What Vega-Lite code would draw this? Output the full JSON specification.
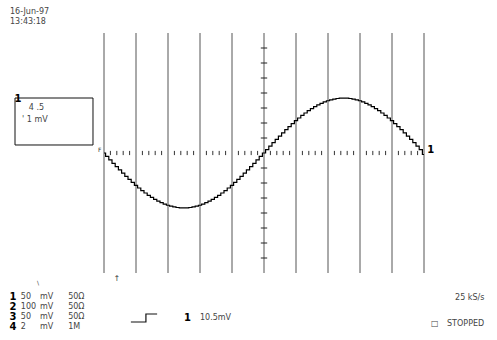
{
  "$schema": "https://vega.github.io/schema/vega-lite/v6.json",
  "width": 497,
  "height": 340,
  "padding": 0,
  "autosize": {"type": "fit", "contains": "padding"},
  "background": "white",
  "config": {"view": {"stroke": null}, "font": "DejaVu Sans"},
  "datasets": {
    "wave": [
      {"t": 0, "v": 0}, {"t": 0.1, "v": -0.115}, {"t": 0.2, "v": -0.229}, {"t": 0.3, "v": -0.343}, {"t": 0.4, "v": -0.455},
      {"t": 0.5, "v": -0.565}, {"t": 0.6, "v": -0.674}, {"t": 0.7, "v": -0.779}, {"t": 0.8, "v": -0.882}, {"t": 0.9, "v": -0.981},
      {"t": 1.0, "v": -1.076}, {"t": 1.1, "v": -1.166}, {"t": 1.2, "v": -1.253}, {"t": 1.3, "v": -1.334}, {"t": 1.4, "v": -1.41},
      {"t": 1.5, "v": -1.48}, {"t": 1.6, "v": -1.545}, {"t": 1.7, "v": -1.604}, {"t": 1.8, "v": -1.656}, {"t": 1.9, "v": -1.702},
      {"t": 2.0, "v": -1.741}, {"t": 2.1, "v": -1.773}, {"t": 2.2, "v": -1.798}, {"t": 2.3, "v": -1.816}, {"t": 2.4, "v": -1.826},
      {"t": 2.5, "v": -1.83}, {"t": 2.6, "v": -1.826}, {"t": 2.7, "v": -1.816}, {"t": 2.8, "v": -1.798}, {"t": 2.9, "v": -1.773},
      {"t": 3.0, "v": -1.741}, {"t": 3.1, "v": -1.702}, {"t": 3.2, "v": -1.656}, {"t": 3.3, "v": -1.604}, {"t": 3.4, "v": -1.545},
      {"t": 3.5, "v": -1.48}, {"t": 3.6, "v": -1.41}, {"t": 3.7, "v": -1.334}, {"t": 3.8, "v": -1.253}, {"t": 3.9, "v": -1.166},
      {"t": 4.0, "v": -1.076}, {"t": 4.1, "v": -0.981}, {"t": 4.2, "v": -0.882}, {"t": 4.3, "v": -0.779}, {"t": 4.4, "v": -0.674},
      {"t": 4.5, "v": -0.565}, {"t": 4.6, "v": -0.455}, {"t": 4.7, "v": -0.343}, {"t": 4.8, "v": -0.229}, {"t": 4.9, "v": -0.115},
      {"t": 5.0, "v": 0}, {"t": 5.1, "v": 0.115}, {"t": 5.2, "v": 0.229}, {"t": 5.3, "v": 0.343}, {"t": 5.4, "v": 0.455},
      {"t": 5.5, "v": 0.565}, {"t": 5.6, "v": 0.674}, {"t": 5.7, "v": 0.779}, {"t": 5.8, "v": 0.882}, {"t": 5.9, "v": 0.981},
      {"t": 6.0, "v": 1.076}, {"t": 6.1, "v": 1.166}, {"t": 6.2, "v": 1.253}, {"t": 6.3, "v": 1.334}, {"t": 6.4, "v": 1.41},
      {"t": 6.5, "v": 1.48}, {"t": 6.6, "v": 1.545}, {"t": 6.7, "v": 1.604}, {"t": 6.8, "v": 1.656}, {"t": 6.9, "v": 1.702},
      {"t": 7.0, "v": 1.741}, {"t": 7.1, "v": 1.773}, {"t": 7.2, "v": 1.798}, {"t": 7.3, "v": 1.816}, {"t": 7.4, "v": 1.826},
      {"t": 7.5, "v": 1.83}, {"t": 7.6, "v": 1.826}, {"t": 7.7, "v": 1.816}, {"t": 7.8, "v": 1.798}, {"t": 7.9, "v": 1.773},
      {"t": 8.0, "v": 1.741}, {"t": 8.1, "v": 1.702}, {"t": 8.2, "v": 1.656}, {"t": 8.3, "v": 1.604}, {"t": 8.4, "v": 1.545},
      {"t": 8.5, "v": 1.48}, {"t": 8.6, "v": 1.41}, {"t": 8.7, "v": 1.334}, {"t": 8.8, "v": 1.253}, {"t": 8.9, "v": 1.166},
      {"t": 9.0, "v": 1.076}, {"t": 9.1, "v": 0.981}, {"t": 9.2, "v": 0.882}, {"t": 9.3, "v": 0.779}, {"t": 9.4, "v": 0.674},
      {"t": 9.5, "v": 0.565}, {"t": 9.6, "v": 0.455}, {"t": 9.7, "v": 0.343}, {"t": 9.8, "v": 0.229}, {"t": 9.9, "v": 0.115},
      {"t": 10.0, "v": -0.05}
    ],
    "grid": [{"t": 0}, {"t": 1}, {"t": 2}, {"t": 3}, {"t": 4}, {"t": 5}, {"t": 6}, {"t": 7}, {"t": 8}, {"t": 9}, {"t": 10}],
    "hticks": [
      {"t": 0.2}, {"t": 0.4}, {"t": 0.6}, {"t": 0.8}, {"t": 1.2}, {"t": 1.4}, {"t": 1.6}, {"t": 1.8},
      {"t": 2.2}, {"t": 2.4}, {"t": 2.6}, {"t": 2.8}, {"t": 3.2}, {"t": 3.4}, {"t": 3.6}, {"t": 3.8},
      {"t": 4.2}, {"t": 4.4}, {"t": 4.6}, {"t": 4.8}, {"t": 5.2}, {"t": 5.4}, {"t": 5.6}, {"t": 5.8},
      {"t": 6.2}, {"t": 6.4}, {"t": 6.6}, {"t": 6.8}, {"t": 7.2}, {"t": 7.4}, {"t": 7.6}, {"t": 7.8},
      {"t": 8.2}, {"t": 8.4}, {"t": 8.6}, {"t": 8.8}, {"t": 9.2}, {"t": 9.4}, {"t": 9.6}, {"t": 9.8}
    ],
    "vticks": [
      {"v": -3.5}, {"v": -3}, {"v": -2.5}, {"v": -2}, {"v": -1.5}, {"v": -1}, {"v": -0.5},
      {"v": 0.5}, {"v": 1}, {"v": 1.5}, {"v": 2}, {"v": 2.5}, {"v": 3}, {"v": 3.5}
    ],
    "box": [{"x1": -2.781, "x2": -0.344, "y1": 1.833, "y2": 0.267}],
    "step": [
      {"i": 0, "x": 0.84, "y": -5.633}, {"i": 1, "x": 1.31, "y": -5.633},
      {"i": 2, "x": 1.31, "y": -5.367}, {"i": 3, "x": 1.66, "y": -5.367}
    ],
    "labels": [
      {"x": -2.9375, "y": 4.7, "text": "16-Jun-97", "kind": "n"},
      {"x": -2.9375, "y": 4.367, "text": "13:43:18", "kind": "n"},
      {"x": -2.35, "y": 1.5, "text": "4 .5", "kind": "n"},
      {"x": -2.5625, "y": 1.1, "text": "' 1 mV", "kind": "n"},
      {"x": -0.19, "y": 0.1, "text": "F", "kind": "s"},
      {"x": -2.094, "y": -4.333, "text": "\\", "kind": "s"},
      {"x": 0.3, "y": -4.2, "text": "↑", "kind": "n"},
      {"x": -2.6, "y": -4.8, "text": "50", "kind": "n"},
      {"x": -2.6, "y": -5.133, "text": "100", "kind": "n"},
      {"x": -2.6, "y": -5.467, "text": "50", "kind": "n"},
      {"x": -2.6, "y": -5.8, "text": "2", "kind": "n"},
      {"x": -2.0, "y": -4.8, "text": "mV", "kind": "n"},
      {"x": -2.0, "y": -5.133, "text": "mV", "kind": "n"},
      {"x": -2.0, "y": -5.467, "text": "mV", "kind": "n"},
      {"x": -2.0, "y": -5.8, "text": "mV", "kind": "n"},
      {"x": -1.12, "y": -4.8, "text": "50Ω", "kind": "n"},
      {"x": -1.12, "y": -5.133, "text": "50Ω", "kind": "n"},
      {"x": -1.12, "y": -5.467, "text": "50Ω", "kind": "n"},
      {"x": -1.12, "y": -5.8, "text": "1M", "kind": "n"},
      {"x": 3.0, "y": -5.5, "text": "10.5mV", "kind": "n"},
      {"x": 10.97, "y": -4.833, "text": "25 kS/s", "kind": "n"},
      {"x": 10.72, "y": -5.7, "text": "STOPPED", "kind": "n"},
      {"x": 10.22, "y": -5.7, "text": "□", "kind": "n"},
      {"x": -2.8, "y": 1.8, "text": "1", "kind": "b"},
      {"x": 10.1, "y": 0.1, "text": "1", "kind": "b"},
      {"x": -2.95, "y": -4.8, "text": "1", "kind": "b"},
      {"x": -2.95, "y": -5.133, "text": "2", "kind": "b"},
      {"x": -2.95, "y": -5.467, "text": "3", "kind": "b"},
      {"x": -2.95, "y": -5.8, "text": "4", "kind": "b"},
      {"x": 2.5, "y": -5.5, "text": "1", "kind": "b"}
    ]
  },
  "layer": [
    {
      "data": {"name": "grid"},
      "mark": {"type": "rule", "color": "#555", "strokeWidth": 1},
      "encoding": {
        "x": {"field": "t", "type": "quantitative", "scale": {"domain": [-3.25, 12.28125], "nice": false, "zero": false}, "axis": null},
        "y": {"datum": -4, "type": "quantitative", "scale": {"domain": [-6.2333, 5.1], "nice": false, "zero": false}, "axis": null},
        "y2": {"datum": 4}
      }
    },
    {
      "data": {"name": "hticks"},
      "mark": {"type": "rule", "color": "#333", "strokeWidth": 1},
      "encoding": {
        "x": {"field": "t", "type": "quantitative"},
        "y": {"datum": -0.07, "type": "quantitative"},
        "y2": {"datum": 0.07}
      }
    },
    {
      "data": {"name": "vticks"},
      "mark": {"type": "rule", "color": "#222", "strokeWidth": 1},
      "encoding": {
        "y": {"field": "v", "type": "quantitative"},
        "x": {"datum": 4.9, "type": "quantitative"},
        "x2": {"datum": 5.1}
      }
    },
    {
      "data": {"name": "box"},
      "mark": {"type": "rect", "fill": null, "fillOpacity": 0, "stroke": "#111", "strokeWidth": 1},
      "encoding": {
        "x": {"field": "x1", "type": "quantitative"},
        "x2": {"field": "x2"},
        "y": {"field": "y1", "type": "quantitative"},
        "y2": {"field": "y2"}
      }
    },
    {
      "data": {"name": "step"},
      "mark": {"type": "line", "color": "#111", "strokeWidth": 1.2},
      "encoding": {
        "x": {"field": "x", "type": "quantitative"},
        "y": {"field": "y", "type": "quantitative"},
        "order": {"field": "i"}
      }
    },
    {
      "data": {"name": "wave"},
      "mark": {"type": "line", "color": "#000", "strokeWidth": 1.2, "interpolate": "step"},
      "encoding": {
        "x": {"field": "t", "type": "quantitative"},
        "y": {"field": "v", "type": "quantitative"}
      }
    },
    {
      "data": {"name": "labels"},
      "transform": [{"filter": "datum.kind === 'n'"}],
      "mark": {"type": "text", "align": "left", "baseline": "middle", "fontSize": 8, "color": "#444"},
      "encoding": {
        "x": {"field": "x", "type": "quantitative"},
        "y": {"field": "y", "type": "quantitative"},
        "text": {"field": "text"}
      }
    },
    {
      "data": {"name": "labels"},
      "transform": [{"filter": "datum.kind === 's'"}],
      "mark": {"type": "text", "align": "left", "baseline": "middle", "fontSize": 6, "color": "#333"},
      "encoding": {
        "x": {"field": "x", "type": "quantitative"},
        "y": {"field": "y", "type": "quantitative"},
        "text": {"field": "text"}
      }
    },
    {
      "data": {"name": "labels"},
      "transform": [{"filter": "datum.kind === 'b'"}],
      "mark": {"type": "text", "align": "left", "baseline": "middle", "fontSize": 10, "fontWeight": "bold", "color": "#000"},
      "encoding": {
        "x": {"field": "x", "type": "quantitative"},
        "y": {"field": "y", "type": "quantitative"},
        "text": {"field": "text"}
      }
    }
  ]
}
